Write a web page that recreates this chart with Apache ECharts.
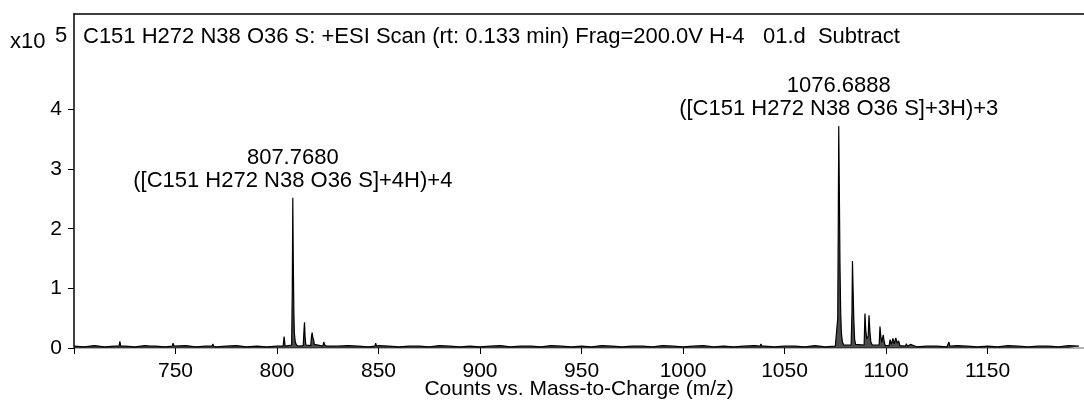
<!DOCTYPE html>
<html>
<head>
<meta charset="utf-8">
<script src="https://cdn.jsdelivr.net/npm/echarts@6/dist/echarts.min.js"></script>
<style>
  html, body { margin: 0; padding: 0; background: #fff; }
  #chart { width: 1084px; height: 403px; }
</style>
</head>
<body>
<div id="chart"></div>
<script>
// x10^5 counts
const noiseStart = 700;
const noiseStep = 5;
const noise = [
  0.03, 0.02, 0.04, 0.02, 0.03, 0.03, 0.02, 0.04, 0.03, 0.02,
  0.03, 0.04, 0.02, 0.03, 0.02, 0.03, 0.04, 0.02, 0.03, 0.02,
  0.03, 0.03, 0.02, 0.04, 0.03, 0.02, 0.03, 0.04, 0.03, 0.02,
  0.04, 0.03, 0.02, 0.03, 0.03, 0.02, 0.04, 0.03, 0.02, 0.03,
  0.02, 0.03, 0.04, 0.02, 0.03, 0.03, 0.02, 0.04, 0.03, 0.02,
  0.03, 0.02, 0.04, 0.03, 0.02, 0.03, 0.03, 0.02, 0.04, 0.03,
  0.02, 0.03, 0.04, 0.02, 0.03, 0.02, 0.03, 0.04, 0.03, 0.02,
  0.03, 0.03, 0.02, 0.04, 0.02, 0.03, 0.04, 0.03, 0.02, 0.03,
  0.02, 0.04, 0.03, 0.02, 0.03, 0.03, 0.02, 0.04, 0.03, 0.02,
  0.03, 0.02, 0.04, 0.03, 0.02, 0.03, 0.03, 0.02, 0.04, 0.03
];

// small isolated bumps [m/z, intensity]
const bumps = [
  [722.2, 0.03], [722.6, 0.11], [723.0, 0.03],
  [737.6, 0.03], [738.0, 0.06], [738.4, 0.03],
  [748.4, 0.03], [748.8, 0.08], [749.3, 0.03],
  [768.0, 0.03], [768.4, 0.07], [768.8, 0.03],
  [848.2, 0.03], [848.6, 0.08], [849.0, 0.03],
  [1038.0, 0.03], [1038.4, 0.07], [1038.8, 0.03],
  [1130.6, 0.03], [1131.0, 0.1], [1131.4, 0.03]
];

// [M+4H]4+ cluster
const cluster4 = [
  [803.0, 0.03], [803.5, 0.19], [804.0, 0.03],
  [807.2, 0.05], [807.5, 0.9], [807.77, 2.52], [808.0, 1.5], [808.3, 0.6],
  [808.55, 0.25], [809.0, 0.1], [809.6, 0.05], [810.2, 0.06], [810.8, 0.03],
  [812.9, 0.04], [813.3, 0.3], [813.55, 0.43], [813.8, 0.2], [814.2, 0.05],
  [816.6, 0.04], [817.0, 0.2], [817.3, 0.26], [817.6, 0.18], [818.0, 0.14],
  [818.4, 0.06], [819.0, 0.04],
  [822.6, 0.03], [823.0, 0.1], [823.5, 0.05], [824.0, 0.07], [824.5, 0.03]
];

// [M+3H]3+ cluster
const cluster3 = [
  [1075.8, 0.03], [1076.2, 0.5], [1076.45, 2.0], [1076.69, 3.72], [1077.0, 2.6],
  [1077.3, 1.4], [1077.65, 0.6], [1078.0, 0.25], [1078.5, 0.1], [1079.2, 0.05],
  [1082.8, 0.05], [1083.2, 0.6], [1083.45, 1.46], [1083.75, 1.0], [1084.1, 0.5],
  [1084.5, 0.15], [1085.0, 0.06],
  [1089.2, 0.05], [1089.6, 0.58], [1090.0, 0.3], [1090.5, 0.15], [1091.2, 0.2],
  [1091.6, 0.55], [1092.0, 0.3], [1092.5, 0.1], [1093.2, 0.05],
  [1096.6, 0.05], [1097.0, 0.36], [1097.4, 0.2], [1097.9, 0.1], [1098.6, 0.22],
  [1099.1, 0.1], [1099.6, 0.04],
  [1101.5, 0.04], [1102.0, 0.14], [1102.6, 0.06], [1103.4, 0.16], [1104.0, 0.07],
  [1104.8, 0.17], [1105.4, 0.08], [1106.2, 0.12], [1106.8, 0.04],
  [1109.5, 0.03], [1110.0, 0.07], [1110.6, 0.03], [1112.0, 0.06], [1112.6, 0.03]
];

const peakLabels = [
  { mz: 807.768, y: 2.52, text: '807.7680\n([C151 H272 N38 O36 S]+4H)+4' },
  { mz: 1076.6888, y: 3.72, text: '1076.6888\n([C151 H272 N38 O36 S]+3H)+3' }
];

const yTicks = [0, 1, 2, 3, 4];
const xTicks = [700, 750, 800, 850, 900, 950, 1000, 1050, 1100, 1150];
const xLabels = [750, 800, 850, 900, 950, 1000, 1050, 1100, 1150];

// merge baseline with peaks, dropping baseline points inside the clusters
const ranges = [[802.5, 825], [1075.5, 1113]];
let spectrum = [];
noise.forEach((v, i) => {
  const mz = noiseStart + i * noiseStep;
  if (!ranges.some(r => mz >= r[0] && mz <= r[1])) spectrum.push([mz, v]);
});
spectrum = spectrum.concat(bumps, cluster4, cluster3).sort((a, b) => a[0] - b[0]);

const font = 'Liberation Sans, Arial, sans-serif';
const chart = echarts.init(document.getElementById('chart'));
chart.setOption({
  animation: false,
  backgroundColor: '#fff',
  title: {
    text: 'C151 H272 N38 O36 S: +ESI Scan (rt: 0.133 min) Frag=200.0V H-4   01.d  Subtract',
    left: 78, top: 21,
    textStyle: { fontFamily: font, fontSize: 22, fontWeight: 'normal', color: '#000' }
  },
  graphic: [
    { type: 'text', left: 10, top: 31, style: { text: 'x10', font: '22px ' + font, fill: '#000' } },
    { type: 'text', left: 55, top: 25, style: { text: '5', font: '22px ' + font, fill: '#000' } }
  ],
  grid: { left: 74, right: 0, top: 14, bottom: 55, outerBoundsMode: 'none', containLabel: false },
  xAxis: [
    {
      type: 'value', min: 700, max: 1197.5, interval: 50,
      offset: 2,
      name: 'Counts vs. Mass-to-Charge (m/z)',
      nameLocation: 'middle', nameGap: 29, nameMoveOverlap: false,
      nameTextStyle: { fontFamily: font, fontSize: 21, color: '#000' },
      axisLine: { show: true, lineStyle: { color: '#9a9a9a', width: 1.5 } },
      axisTick: { show: true, length: 6, customValues: xTicks, lineStyle: { color: '#000' } },
      axisLabel: {
        customValues: xLabels, margin: 11, fontFamily: font, fontSize: 21, color: '#000',
        formatter: v => String(v)
      },
      splitLine: { show: false }
    },
    {
      type: 'value', position: 'top', min: 700, max: 1197.5,
      axisLine: { show: true, lineStyle: { color: '#000', width: 1.5 } },
      axisTick: { show: false }, axisLabel: { show: false }, splitLine: { show: false }
    }
  ],
  yAxis: {
    type: 'value', min: 0, max: 5.6,
    axisLine: { show: true, lineStyle: { color: '#000', width: 1.5 } },
    axisTick: { show: true, length: 6, customValues: yTicks, lineStyle: { color: '#000' } },
    axisLabel: { customValues: yTicks, margin: 12, fontFamily: font, fontSize: 21, color: '#000' },
    splitLine: { show: false }
  },
  series: [
    {
      type: 'line',
      data: spectrum,
      showSymbol: false,
      symbol: 'none',
      sampling: null,
      lineStyle: { color: '#000', width: 1.2 },
      areaStyle: { color: '#000', origin: 'start' },
      markPoint: {
        symbol: 'circle', symbolSize: 1,
        itemStyle: { color: 'transparent' },
        label: {
          show: true, position: 'top', distance: 5,
          fontFamily: font, fontSize: 22, color: '#000', lineHeight: 23,
          align: 'center',
          formatter: p => p.data.text
        },
        data: peakLabels.map(p => ({ coord: [p.mz, p.y], text: p.text }))
      }
    }
  ]
});
</script>
</body>
</html>
